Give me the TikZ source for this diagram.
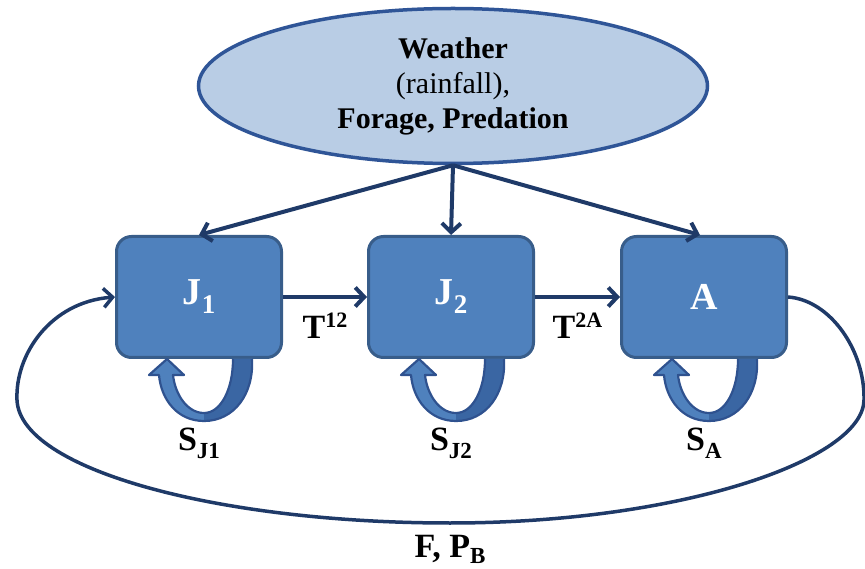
\documentclass[tikz,border=0pt]{standalone}
\usepackage{fontspec}
\setmainfont{Liberation Serif}
\usetikzlibrary{arrows.meta,calc,shapes.geometric}
\definecolor{boxfill}{HTML}{4F81BD}
\definecolor{boxline}{HTML}{385D8A}
\definecolor{ellfill}{HTML}{B9CDE5}
\definecolor{ellline}{HTML}{2F5597}
\definecolor{arrcol}{HTML}{1F3A68}
\definecolor{loopdark}{HTML}{3A66A3}
\definecolor{loopline}{HTML}{2F528F}
\newcommand{\fs}[1]{\fontsize{#1}{#1}\selectfont}
\newcommand{\selfloop}[1]{%
  \begin{scope}[shift={(#1.south)}]
    \fill[boxfill] (53,0) .. controls (55,35) and (35,62) .. (5,62)
      .. controls (-22,62) and (-38,40) .. (-40,16) -- (-50,16) -- (-32,0) -- (-15,16) -- (-26,16)
      .. controls (-24,35) and (-12,54) .. (5,54) .. controls (22,54) and (34,30) .. (34,0) -- cycle;
    \fill[loopdark] (53,0) .. controls (55,35) and (35,62) .. (5,62) -- (5,54)
      .. controls (22,54) and (34,30) .. (34,0) -- cycle;
    \draw[loopline, line width=2.2pt, line join=round] (53,0) .. controls (55,35) and (35,62) .. (5,62)
      .. controls (-22,62) and (-38,40) .. (-40,16) -- (-50,16) -- (-32,0) -- (-15,16) -- (-26,16)
      .. controls (-24,35) and (-12,54) .. (5,54) .. controls (22,54) and (34,30) .. (34,0);
  \end{scope}}
\tikzset{
  stagebox/.style={draw=boxline, fill=boxfill, line width=3pt, rounded corners=15pt,
    minimum width=165pt, minimum height=121pt, inner sep=0pt, text=white,
    font=\bfseries\fs{38}},
  env/.style={ellipse, draw=ellline, fill=ellfill, line width=3.5pt,
    minimum width=509pt, minimum height=155pt, inner sep=0pt, align=center,
    font=\fs{30}},
  conn/.style={draw=arrcol, line width=4pt, -{Straight Barb[length=9pt,width=19pt]}},
  lbl/.style={inner sep=0pt, anchor=base, font=\bfseries\fs{34}}
}
\begin{document}
\begin{tikzpicture}[x=1pt,y=-1pt]
\useasboundingbox (0,0) rectangle (865,569);
\node[env] (env) at (453,86) {\textbf{Weather}\\[5pt](rainfall),\\[5pt]\textbf{Forage, Predation}};
\node[stagebox] (J1) at (199,297) {J\raisebox{-9pt}{\fs{27}1}};
\node[stagebox] (J2) at (451,297) {J\raisebox{-9pt}{\fs{27}2}};
\node[stagebox] (A) at (704,297) {A};
\draw[conn] (env.south) -- (J1.north);
\draw[conn] (env.south) -- (J2.north);
\draw[conn] (env.south) -- ($(A.north)+(-4,0)$);
\draw[conn] (J1.east) -- (J2.west);
\draw[conn] (J2.east) -- (A.west);
\draw[conn, line width=3.5pt] (A.east) .. controls (830,300) and (865,350) .. (864,400)
  .. controls (863,460) and (680,523) .. (450,523)
  .. controls (220,523) and (20,470) .. (17,400)
  .. controls (15,355) and (50,302) .. (J1.west);
\selfloop{J1}
\selfloop{J2}
\selfloop{A}
\node[lbl] (t12) at ($(J1.east)!0.5!(J2.west)+(0,41)$) {T\raisebox{10pt}{\fs{22}12}};
\node[lbl] (t2a) at ($(J2.east)!0.5!(A.west)+(0,41)$) {T\raisebox{10pt}{\fs{22}2A}};
\node[lbl] (sj1) at ($(J1.south)+(0,91)$) {S\raisebox{-8pt}{\fs{23}J1}};
\node[lbl] (sj2) at ($(J2.south)+(0,91)$) {S\raisebox{-8pt}{\fs{23}J2}};
\node[lbl] (sa) at ($(A.south)+(0,91)$) {S\raisebox{-8pt}{\fs{23}A}};
\node[lbl] (fpb) at (450,557) {F, P\raisebox{-6pt}{\fs{23}B}};
\end{tikzpicture}
\end{document}
